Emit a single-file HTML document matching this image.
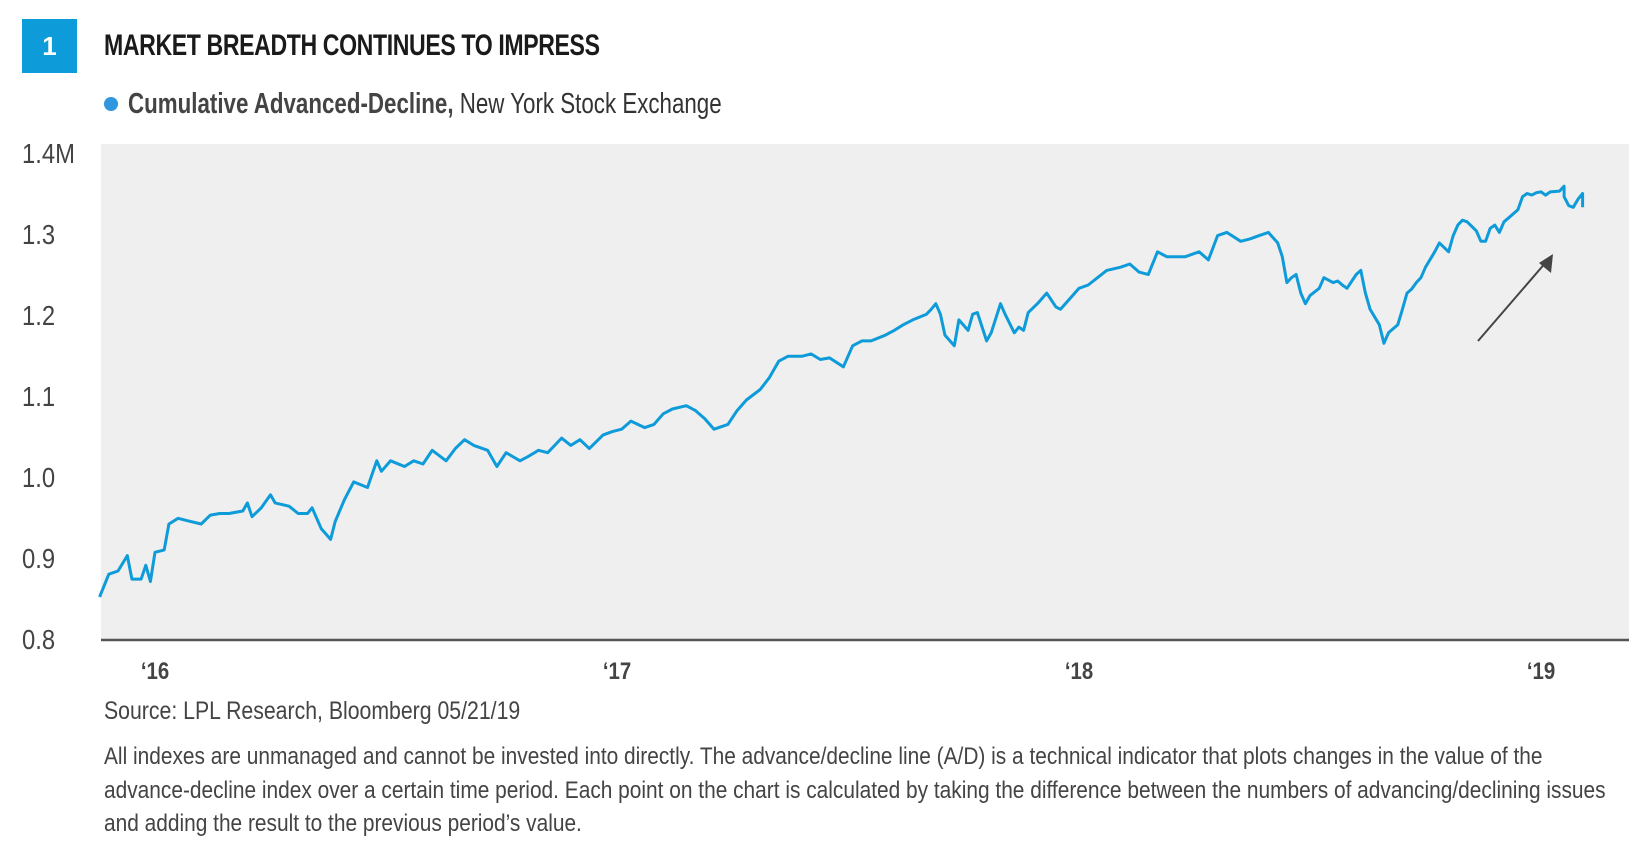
<!DOCTYPE html>
<html><head><meta charset="utf-8"><style>
body{margin:0;width:1640px;height:858px;background:#fff;font-family:"Liberation Sans",sans-serif;overflow:hidden;position:relative}
.t{position:absolute;white-space:nowrap;transform-origin:0 0}
</style></head><body>
<div style="position:absolute;left:22px;top:19px;width:55px;height:54px;background:#0e9bd9;color:#fff;font:bold 26px 'Liberation Sans',sans-serif;text-align:center;line-height:54px">1</div>
<div class="t" style="left:104px;top:29px;font-size:30px;font-weight:bold;color:#1a1a1a;letter-spacing:-0.5px;transform:scaleX(0.77)">MARKET BREADTH CONTINUES TO IMPRESS</div>
<div style="position:absolute;left:104px;top:97px;width:14px;height:14px;border-radius:50%;background:#2f97dd"></div>
<div class="t" style="left:128px;top:88px;font-size:29px;color:#333;transform:scaleX(0.77)"><span style="font-weight:bold;color:#444">Cumulative Advanced-Decline,</span> New York Stock Exchange</div>
<svg id="chart" width="1640" height="700" style="position:absolute;left:0;top:0"></svg>
<div class="t" style="left:104px;top:697px;font-size:25px;color:#444;transform:scaleX(0.85)">Source: LPL Research, Bloomberg 05/21/19</div>
<div style="position:absolute;left:104px;top:740px;font-size:24px;line-height:33.5px;color:#444">
<div class="t" style="position:relative;transform:scaleX(0.87)">All indexes are unmanaged and cannot be invested into directly. The advance/decline line (A/D) is a technical indicator that plots changes in the value of the</div>
<div class="t" style="position:relative;transform:scaleX(0.87)">advance-decline index over a certain time period. Each point on the chart is calculated by taking the difference between the numbers of advancing/declining issues</div>
<div class="t" style="position:relative;transform:scaleX(0.87)">and adding the result to the previous period’s value.</div>
</div>
<script>
const yTicks=[800,900,1000,1100,1200,1300,1400];
const yTickLabels=["0.8","0.9","1.0","1.1","1.2","1.3","1.4M"];
const xTicks=[2016,2017,2018,2019];
const xTickLabels=["‘16","‘17","‘18","‘19"];
const dates=[2015.88,2015.90,2015.92,2015.94,2015.95,2015.97,2015.98,2015.99,2016.00,2016.02,2016.03,2016.05,2016.07,2016.10,2016.12,2016.14,2016.16,2016.19,2016.20,2016.21,2016.23,2016.25,2016.26,2016.29,2016.31,2016.33,2016.34,2016.36,2016.38,2016.39,2016.41,2016.43,2016.46,2016.48,2016.49,2016.51,2016.54,2016.56,2016.58,2016.60,2016.63,2016.65,2016.67,2016.69,2016.72,2016.74,2016.76,2016.79,2016.81,2016.83,2016.85,2016.88,2016.90,2016.92,2016.94,2016.97,2016.99,2017.01,2017.03,2017.06,2017.08,2017.10,2017.12,2017.15,2017.17,2017.19,2017.21,2017.24,2017.26,2017.28,2017.31,2017.33,2017.35,2017.37,2017.40,2017.42,2017.44,2017.46,2017.49,2017.51,2017.53,2017.55,2017.58,2017.60,2017.62,2017.64,2017.67,2017.68,2017.69,2017.70,2017.71,2017.73,2017.74,2017.76,2017.77,2017.78,2017.80,2017.81,2017.83,2017.84,2017.86,2017.87,2017.88,2017.89,2017.91,2017.93,2017.95,2017.96,2017.98,2018.00,2018.02,2018.04,2018.06,2018.09,2018.11,2018.13,2018.15,2018.17,2018.19,2018.21,2018.23,2018.26,2018.28,2018.30,2018.32,2018.35,2018.37,2018.39,2018.41,2018.43,2018.44,2018.45,2018.46,2018.47,2018.48,2018.49,2018.50,2018.52,2018.53,2018.55,2018.56,2018.57,2018.58,2018.60,2018.61,2018.62,2018.63,2018.65,2018.66,2018.67,2018.69,2018.70,2018.71,2018.72,2018.73,2018.74,2018.75,2018.77,2018.78,2018.80,2018.81,2018.82,2018.83,2018.84,2018.86,2018.87,2018.88,2018.89,2018.90,2018.91,2018.92,2018.93,2018.95,2018.96,2018.97,2018.98,2018.99,2019.00,2019.01,2019.02,2019.04,2019.05,2019.05,2019.06,2019.07,2019.08,2019.09,2019.09];
const adValues=[852,880,884,903,874,874,891,871,907,910,942,949,946,942,953,955,955,958,968,951,962,978,968,964,955,955,962,936,923,945,972,994,987,1020,1007,1020,1013,1020,1016,1033,1020,1035,1046,1039,1033,1013,1030,1020,1026,1033,1030,1048,1039,1046,1035,1052,1056,1059,1069,1061,1065,1078,1084,1088,1082,1072,1059,1065,1082,1095,1108,1123,1143,1149,1149,1152,1145,1147,1136,1162,1168,1168,1175,1181,1188,1194,1201,1207,1214,1201,1175,1162,1194,1181,1201,1203,1168,1178,1214,1201,1178,1185,1181,1203,1214,1227,1210,1207,1220,1233,1237,1246,1255,1259,1263,1253,1250,1278,1272,1272,1272,1278,1268,1298,1302,1291,1294,1298,1302,1289,1272,1240,1246,1250,1227,1214,1224,1233,1246,1240,1242,1237,1233,1250,1255,1227,1207,1188,1165,1178,1188,1207,1227,1232,1240,1246,1259,1278,1289,1278,1298,1311,1317,1315,1304,1291,1291,1307,1311,1302,1315,1320,1330,1346,1350,1348,1351,1352,1348,1352,1353,1359,1346,1335,1333,1343,1350,1333];
const NS="http://www.w3.org/2000/svg";
const svg=document.getElementById('chart');
const L=101,R=1629,T=144,B=640;
const xs=v=>155+(v-2016)*462;
const ys=v=>639-(v-800)*0.81;
function mk(tag,attrs){const e=document.createElementNS(NS,tag);for(const k in attrs)e.setAttribute(k,attrs[k]);svg.appendChild(e);return e;}
const bg=mk('rect',{x:L,y:T,width:R-L,height:B-T,fill:'#efefef'});


yTicks.forEach((v,i)=>{const t=mk('text',{x:0,y:0,transform:`translate(22,${ys(v)+10}) scale(0.85,1)`,'font-size':28,fill:'#444','font-family':'Liberation Sans, sans-serif'});t.textContent=yTickLabels[i];

});
xTicks.forEach((v,i)=>{const t=mk('text',{x:0,y:0,transform:`translate(${xs(v)},679) scale(0.85,1)`,'font-size':24,'font-weight':'bold',fill:'#444','text-anchor':'middle','font-family':'Liberation Sans, sans-serif'});t.textContent=xTickLabels[i];

});
const ax=mk('line',{x1:L,x2:R,y1:B,y2:B,stroke:'#555','stroke-width':2.5});


const pts=dates.map((d,i)=>xs(d).toFixed(1)+','+ys(adValues[i]).toFixed(1)).join(' ');
const line=mk('polyline',{points:pts,fill:'none',stroke:'#0e9bd9','stroke-width':3,'stroke-linejoin':'round'});


const ar=mk('line',{x1:1478,y1:341,x2:1547,y2:261,stroke:'#444','stroke-width':2});


const ah=mk('polygon',{points:'1553,254 1551,273 1539,263',fill:'#444'});


</script>
</body></html>
